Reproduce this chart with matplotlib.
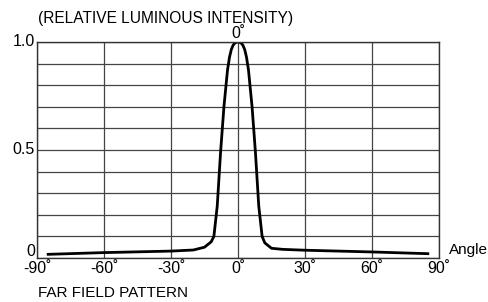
import matplotlib.pyplot as plt

plt.rcParams['font.family'] = ['Liberation Sans', 'DejaVu Sans']

angles = [-85, -60, -30, -20, -15, -12, -10.8, -9.3, -7.8, -6.3, -4.7, -3.8, -3.0, -2.2, -1.4, -0.7, 0,
          0.7, 1.4, 2.2, 3.0, 3.8, 4.7, 6.3, 7.8, 9.3, 10.8, 12, 15, 20, 30, 60, 85]
intensity = [0.017, 0.025, 0.032, 0.037, 0.05, 0.075, 0.10, 0.24, 0.49, 0.70, 0.87, 0.93, 0.965, 0.985, 0.995, 0.999, 1.0,
             0.999, 0.995, 0.985, 0.965, 0.93, 0.87, 0.70, 0.49, 0.24, 0.10, 0.07, 0.045, 0.04, 0.036, 0.028, 0.02]
xticks = [-90, -60, -30, 0, 30, 60, 90]

fig = plt.figure(figsize=(4.89, 3.02), dpi=100)
ax = fig.add_axes([37/489, 1-258/302, 402/489, 216/302])

ax.plot(angles, intensity, color='black', lw=2, solid_joinstyle='round')
ax.set_xlim(-90, 90)
ax.set_ylim(0, 1)
ax.set_xticks(xticks)
ax.set_xticklabels([f"{t}˚" for t in xticks], fontsize=11.5)
ax.set_yticks([i/10 for i in range(11)])
ax.set_yticklabels(['' for i in range(11)])
ax.tick_params(length=0, pad=2)
ax.grid(True, color='#444444', lw=0.9)
for s in ax.spines.values():
    s.set_color('#333333')
    s.set_linewidth(1)

ax.text(-0.005, 1.0, '1.0', transform=ax.transAxes, ha='right', va='center', fontsize=11.5)
ax.text(-0.005, 0.5, '0.5', transform=ax.transAxes, ha='right', va='center', fontsize=11.5)
ax.text(-0.005, 0.03, '0', transform=ax.transAxes, ha='right', va='center', fontsize=11.5)
ax.text(0, 1.005, '0˚', ha='center', va='bottom', fontsize=11.5)
fig.text(38/489, 1-18/302, '(RELATIVE LUMINOUS INTENSITY)', ha='left', va='center', fontsize=11.2)
fig.text(449/489, 1-250/302, 'Angle', ha='left', va='center', fontsize=11)
fig.text(38/489, 1-293/302, 'FAR FIELD PATTERN', ha='left', va='center', fontsize=11)

fig.savefig('out.png', dpi=100)
